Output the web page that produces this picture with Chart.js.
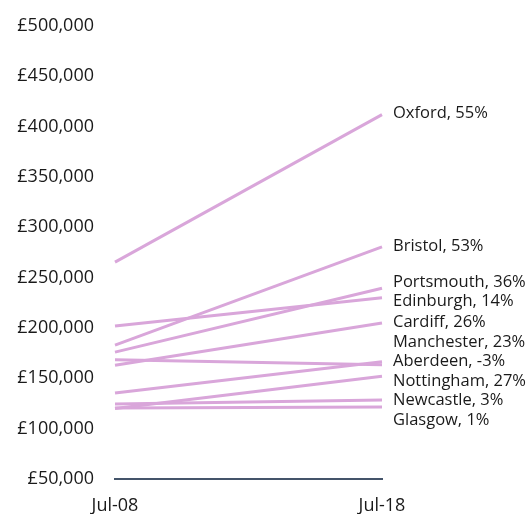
<!DOCTYPE html>
<html>
<head>
<meta charset="utf-8">
<script src="https://cdn.jsdelivr.net/npm/chart.js@4/dist/chart.umd.min.js"></script>
<style>
  html, body { margin: 0; padding: 0; background: #fff; }
  #wrap { width: 529px; height: 514px; position: relative; }
</style>
</head>
<body>
<div id="wrap"><canvas id="c" width="529" height="514"></canvas></div>
<script>
const categories = ["Jul-08", "Jul-18"];
const cities = ["Oxford", "Bristol", "Portsmouth", "Edinburgh", "Cardiff", "Manchester", "Aberdeen", "Nottingham", "Newcastle", "Glasgow"];
const jul08 = [265500, 183000, 176000, 202000, 163000, 135500, 168500, 120000, 124500, 120500];
const jul18 = [412000, 280500, 239500, 230000, 205000, 166500, 163500, 152000, 128500, 121500];
const pctChange = [55, 53, 36, 14, 26, 23, -3, 27, 3, 1];
const yTicks = [50000, 100000, 150000, 200000, 250000, 300000, 350000, 400000, 450000, 500000];

const FONT = "'Open Sans', sans-serif";
const LINE_COLOR = "rgb(217,166,218)";

const datasets = cities.map((c, i) => ({
  label: c,
  data: [jul08[i], jul18[i]],
  borderColor: LINE_COLOR,
  borderWidth: 3,
  pointRadius: 0,
  fill: false,
  tension: 0
}));

const endLabels = {
  id: 'endLabels',
  afterDatasetsDraw(chart) {
    const ctx = chart.ctx;
    const items = chart.data.datasets.map((ds, i) => {
      const meta = chart.getDatasetMeta(i);
      const pt = meta.data[meta.data.length - 1];
      return { x: pt.x, y: pt.y, text: cities[i] + ", " + pctChange[i] + "%" };
    });
    items.sort((a, b) => a.y - b.y);
    const gap = 19.5;
    let clusters = items.map(it => ({ items: [it], center: it.y }));
    let merged = true;
    while (merged) {
      merged = false;
      for (let k = 0; k < clusters.length - 1; k++) {
        const a = clusters[k], b = clusters[k + 1];
        const aBottom = a.center + (a.items.length - 1) * gap / 2;
        const bTop = b.center - (b.items.length - 1) * gap / 2;
        if (bTop - aBottom < gap) {
          const all = a.items.concat(b.items);
          const mean = all.reduce((s, it) => s + it.y, 0) / all.length;
          clusters.splice(k, 2, { items: all, center: mean });
          merged = true;
          break;
        }
      }
    }
    ctx.save();
    ctx.font = "16.5px " + FONT;
    ctx.fillStyle = "#1a1a1a";
    ctx.textAlign = "left";
    ctx.textBaseline = "middle";
    clusters.forEach(cl => {
      const n = cl.items.length;
      cl.items.forEach((it, j) => {
        const ly = cl.center + (j - (n - 1) / 2) * gap - 1;
        ctx.fillText(it.text, it.x + 11, ly);
      });
    });
    ctx.restore();
  }
};

new Chart(document.getElementById('c'), {
  type: 'line',
  data: { labels: categories, datasets },
  options: {
    responsive: false,
    animation: false,
    layout: { padding: { top: 26, right: 147, left: 0, bottom: 0 } },
    plugins: { legend: { display: false }, tooltip: { enabled: false } },
    scales: {
      x: {
        offset: false,
        grid: { display: false, drawTicks: false },
        border: { display: true, color: '#44546A', width: 2 },
        ticks: { color: '#1a1a1a', font: { family: FONT, size: 18 }, padding: 16, maxRotation: 0 },
        afterFit(scale) { scale.height = 35; }
      },
      y: {
        min: 50000, max: 500000,
        afterBuildTicks(scale) { scale.ticks = yTicks.map(v => ({ value: v })); },
        grid: { display: false, drawTicks: false },
        border: { display: false },
        ticks: {
          color: '#1a1a1a', font: { family: FONT, size: 18 }, padding: 21,
          callback: v => '£' + v.toLocaleString('en-GB')
        },
        afterFit(scale) {
          scale.width = 115;
          scale.paddingTop = 0;
          scale.paddingBottom = 0;
        }
      }
    }
  },
  plugins: [endLabels]
});
</script>
</body>
</html>
